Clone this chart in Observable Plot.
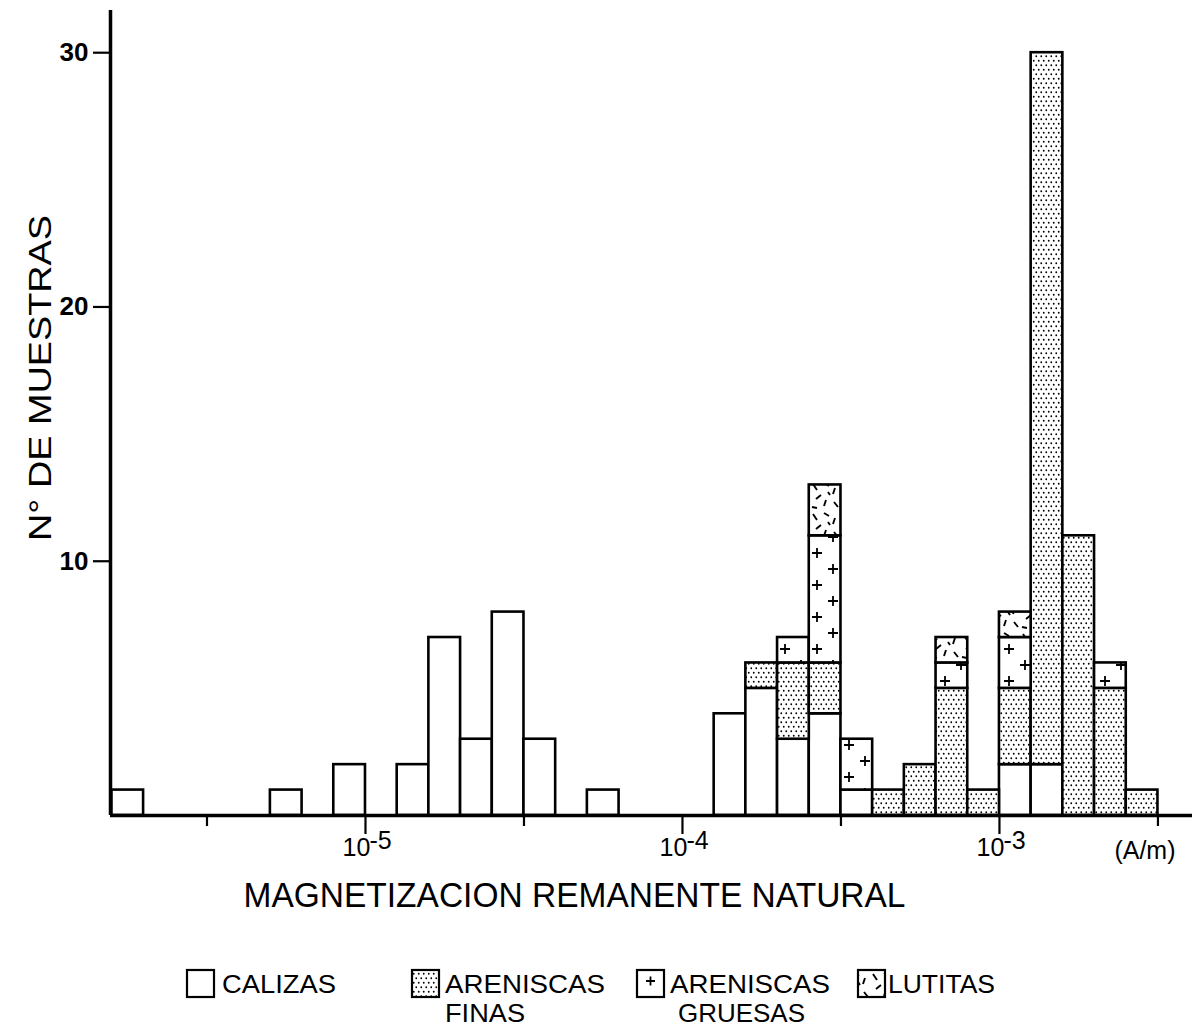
<!DOCTYPE html>
<html>
<head>
<meta charset="utf-8">
<script src="https://cdn.jsdelivr.net/npm/d3@7"></script>
<script src="https://cdn.jsdelivr.net/npm/@observablehq/plot@0.6"></script>
<style>
  body { margin: 0; background: #fff; }
  #wrap { position: relative; width: 1198px; height: 1028px; background: #fff; }
  #defs { position: absolute; left: 0; top: 0; width: 0; height: 0; }
  #legend { position: absolute; left: 0; top: 940px; }
  text { font-family: "Liberation Sans", Arial, Helvetica, sans-serif; }
</style>
</head>
<body>
<div id="wrap">
<svg id="defs" width="0" height="0">
  <defs>
    <pattern id="p-finas" width="5" height="9" patternUnits="userSpaceOnUse">
      <rect width="5" height="9" fill="#fff"/>
      <circle cx="1.25" cy="2.25" r="0.9" fill="#000"/>
      <circle cx="3.75" cy="6.75" r="0.9" fill="#000"/>
    </pattern>
    <pattern id="p-gruesas" width="32" height="32" patternUnits="userSpaceOnUse">
      <rect width="32" height="32" fill="#fff"/>
      <path d="M12 9H22M17 4V14M-4 25H6M1 20V30M28 25H38M33 20V30" stroke="#000" stroke-width="1.8" fill="none"/>
    </pattern>
    <pattern id="p-lutitas" width="30" height="30" patternUnits="userSpaceOnUse">
      <rect width="30" height="30" fill="#fff"/>
      <path d="M3 4L7 10M14 3L19 6M25 8L23 14M6 19L11 15M16 20L14 26M24 22L28 27M2 27L7 28M18 12L20 15" stroke="#000" stroke-width="1.9" fill="none"/>
    </pattern>
  </defs>
</svg>
</div>
<script>
// ---- data (bins are 0.1 decade wide; binLow = log10 of lower edge, A/m) ----
const binLow  = [-5.8, -5.3, -5.1, -4.9, -4.8, -4.7, -4.6, -4.5, -4.3, -3.9, -3.8, -3.7, -3.6, -3.5, -3.4, -3.3, -3.2, -3.1, -3.0, -2.9, -2.8, -2.7, -2.6];
const calizas = [ 1,    1,    2,    2,    7,    3,    8,    3,    1,    4,    5,    3,    4,    1,    0,    0,    0,    0,    2,    2,    0,    0,    0  ];
const finas   = [ 0,    0,    0,    0,    0,    0,    0,    0,    0,    0,    1,    3,    2,    0,    1,    2,    5,    1,    3,   28,   11,    5,    1  ];
const gruesas = [ 0,    0,    0,    0,    0,    0,    0,    0,    0,    0,    0,    1,    5,    2,    0,    0,    1,    0,    2,    0,    0,    1,    0  ];
const lutitas = [ 0,    0,    0,    0,    0,    0,    0,    0,    0,    0,    0,    0,    2,    0,    0,    0,    1,    0,    1,    0,    0,    0,    0  ];
const binWidth = 0.1;

const categories = ["CALIZAS", "ARENISCAS FINAS", "ARENISCAS GRUESAS", "LUTITAS"];
const fills = ["#fff", "url(#p-finas)", "url(#p-gruesas)", "url(#p-lutitas)"];

const yTicks = [10, 20, 30];
const decadeTicks = [-5, -4, -3];
const halfTicks = [-5.5, -4.5, -3.5, -2.5];
const xTitle = "MAGNETIZACION REMANENTE NATURAL";
const yTitle = "N° DE MUESTRAS";
const unitLabel = "(A/m)";

// ---- stacked table ----
const series = [calizas, finas, gruesas, lutitas];
const rows = [];
binLow.forEach((lo, i) => {
  let base = 0;
  series.forEach((arr, k) => {
    const v = arr[i];
    if (v > 0) {
      rows.push({lo, hi: lo + binWidth, y1: base, y2: base + v, cat: categories[k]});
      base += v;
    }
  });
});

const xMin = 10 ** -5.8044, xMax = 10 ** -2.391;
const FONT = "'Liberation Sans', Arial, Helvetica, sans-serif";

const plot = Plot.plot({
  width: 1198,
  height: 940,
  marginLeft: 110,
  marginRight: 6,
  marginTop: 10,
  marginBottom: 125,
  style: {fontFamily: FONT, background: "#fff", color: "#000"},
  x: {type: "log", domain: [xMin, xMax]},
  y: {domain: [0, 31.66]},
  marks: [
    ...categories.map((c, k) =>
      Plot.rect(rows.filter(d => d.cat === c), {
        x1: d => 10 ** d.lo, x2: d => 10 ** d.hi, y1: "y1", y2: "y2",
        fill: fills[k], stroke: "#000", strokeWidth: 2.6
      })
    ),
    Plot.ruleY([0], {stroke: "#000", strokeWidth: 3.5}),
    Plot.ruleX([xMin], {stroke: "#000", strokeWidth: 3.5}),
    Plot.axisX({ticks: decadeTicks.map(e => 10 ** e), tickSize: 19, tickFormat: () => "", label: null, strokeWidth: 2.2}),
    Plot.axisX({ticks: halfTicks.map(e => 10 ** e), tickSize: 11, tickFormat: () => "", label: null, strokeWidth: 2.2}),
    Plot.axisY({ticks: yTicks, tickSize: 17, tickPadding: 5, fontSize: 26, fontWeight: "bold", label: null, strokeWidth: 2.2}),
    Plot.text(decadeTicks, {x: d => 10 ** d, text: () => "10", frameAnchor: "bottom", dx: -9, dy: 40, fontSize: 25}),
    Plot.text(decadeTicks, {x: d => 10 ** d, text: d => "-" + (-d), frameAnchor: "bottom", textAnchor: "start", dx: 4, dy: 33, fontSize: 25}),
    Plot.text([unitLabel], {frameAnchor: "bottom-right", textAnchor: "end", dx: -17, dy: 43, fontSize: 25}),
    Plot.text([xTitle], {frameAnchor: "bottom-left", textAnchor: "start", dx: 133, dy: 91, fontSize: 35})
  ]
});
document.getElementById("wrap").appendChild(plot);

// fit x title width to the reference
d3.select(plot).selectAll("text").each(function() {
  if (this.textContent === xTitle) d3.select(this).attr("textLength", 662).attr("lengthAdjust", "spacingAndGlyphs");
});

// y title (rotated), placed explicitly
d3.select(plot).append("text")
  .attr("transform", "translate(51,541) rotate(-90)")
  .attr("text-anchor", "start")
  .attr("font-size", 32)
  .attr("font-family", FONT)
  .attr("fill", "#000")
  .attr("textLength", 326)
  .attr("lengthAdjust", "spacingAndGlyphs")
  .text(yTitle);

// ---- legend ----
const leg = d3.select("#wrap").append("svg").attr("id", "legend").attr("width", 1198).attr("height", 88);
const items = [
  {x: 187, fill: fills[0], lines: [["CALIZAS", 222, 114]]},
  {x: 412, fill: fills[1], lines: [["ARENISCAS", 445, 160], ["FINAS", 445, 80]]},
  {x: 637, fill: "#fff", plus: true, lines: [["ARENISCAS", 670, 160], ["GRUESAS", 678, 127]]},
  {x: 858, fill: fills[3], lines: [["LUTITAS", 888, 107]]}
];
items.forEach(it => {
  leg.append("rect").attr("x", it.x).attr("y", 30).attr("width", 27).attr("height", 27)
    .attr("fill", it.fill).attr("stroke", "#000").attr("stroke-width", 2.2);
  if (it.plus) {
    const cx = it.x + 13.5, cy = 41;
    leg.append("path").attr("d", `M${cx-4.5} ${cy}H${cx+4.5}M${cx} ${cy-4.5}V${cy+4.5}`)
      .attr("stroke", "#000").attr("stroke-width", 1.8);
  }
  it.lines.forEach(([t, x, w], j) => {
    leg.append("text").attr("x", x).attr("y", 53 + j * 29).attr("font-size", 25)
      .attr("font-family", FONT).attr("textLength", w).attr("lengthAdjust", "spacingAndGlyphs").text(t);
  });
});
</script>
</body>
</html>
